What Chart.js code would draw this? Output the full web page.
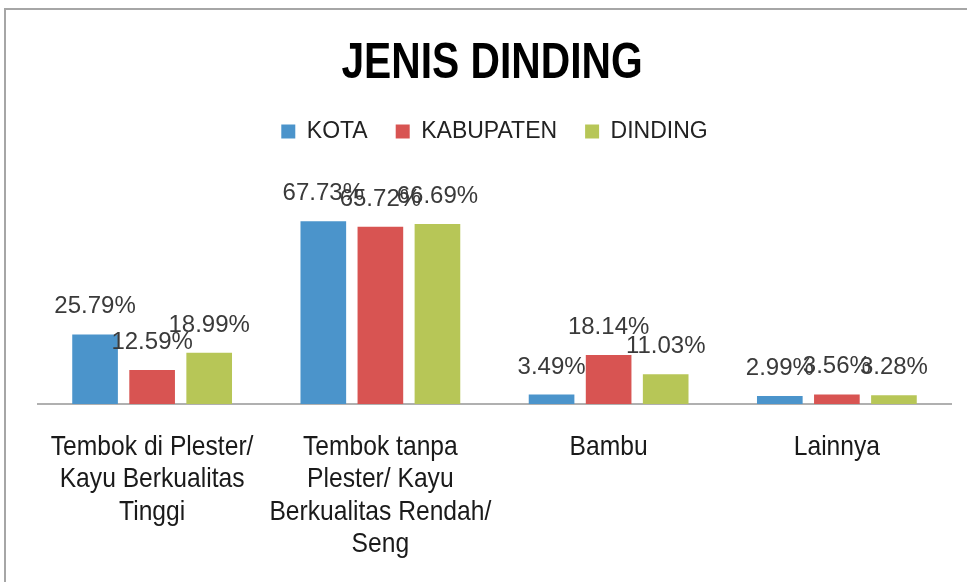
<!DOCTYPE html>
<html>
<head>
<meta charset="utf-8">
<script src="https://cdn.jsdelivr.net/npm/chart.js@4.4.0/dist/chart.umd.min.js"></script>
<style>
  body { margin: 0; background: #fff; }
  #wrap { position: relative; width: 967px; height: 582px; }
  #frame { position: absolute; left: 4px; top: 8px; width: 970px; height: 580px;
           border-top: 2px solid #a6a6a6; border-left: 2px solid #a6a6a6; }
  canvas { position: absolute; left: 0; top: 0; }
</style>
</head>
<body>
<div id="wrap">
  <div id="frame"></div>
  <canvas id="bar-chart" width="967" height="582"></canvas>
</div>
<script>
var titleText = "JENIS DINDING";
var categories = [
  ["Tembok di Plester/", "Kayu Berkualitas", "Tinggi"],
  ["Tembok tanpa", "Plester/ Kayu", "Berkualitas Rendah/", "Seng"],
  ["Bambu"],
  ["Lainnya"]
];
var kota = [25.79, 67.73, 3.49, 2.99];
var kabupaten = [12.59, 65.72, 18.14, 3.56];
var dinding = [18.99, 66.69, 11.03, 3.28];

// narrow (squeezed) text, the original uses a condensed office font
function narrowText(ctx, text, x, y, squeeze) {
  ctx.save();
  ctx.translate(x, y);
  ctx.scale(squeeze, 1);
  ctx.fillText(text, 0, 0);
  ctx.restore();
}

var extras = {
  id: "extras",
  afterDraw: function (chart) {
    var ctx = chart.ctx;
    var xs = chart.scales.x;
    ctx.save();
    ctx.textAlign = "center";
    ctx.textBaseline = "alphabetic";

    // title
    ctx.fillStyle = "#000";
    ctx.font = "bold 50px 'Liberation Sans', Arial, sans-serif";
    narrowText(ctx, titleText, 492, 78, 0.815);

    // category labels
    ctx.fillStyle = "#1a1a1a";
    ctx.font = "28px 'Liberation Sans', Arial, sans-serif";
    categories.forEach(function (lines, i) {
      var cx = xs.getPixelForValue(i);
      lines.forEach(function (ln, k) {
        narrowText(ctx, ln, cx, 455 + k * 32.3, 0.88);
      });
    });

    // value labels
    ctx.fillStyle = "#3a3a3a";
    ctx.font = "24px 'Liberation Sans', Arial, sans-serif";
    chart.data.datasets.forEach(function (ds, i) {
      chart.getDatasetMeta(i).data.forEach(function (bar, j) {
        ctx.fillText(ds.data[j].toFixed(2) + "%", bar.x, bar.y - 21);
      });
    });
    ctx.restore();
  }
};

new Chart(document.getElementById("bar-chart"), {
  type: "bar",
  data: {
    labels: categories,
    datasets: [
      { label: "KOTA", backgroundColor: "#4b94cb", data: kota },
      { label: "KABUPATEN", backgroundColor: "#d85452", data: kabupaten },
      { label: "DINDING", backgroundColor: "#b7c657", data: dinding }
    ]
  },
  plugins: [extras],
  options: {
    responsive: false,
    animation: false,
    layout: { padding: { left: 38, right: 16, top: 92, bottom: 170 } },
    datasets: { bar: { categoryPercentage: 0.75, barPercentage: 0.8 } },
    plugins: {
      title: { display: false },
      legend: {
        display: true,
        labels: {
          color: "#222",
          font: { family: "'Liberation Sans', Arial, sans-serif", size: 23 },
          boxWidth: 14,
          boxHeight: 14,
          padding: 28
        }
      },
      tooltip: { enabled: false }
    },
    scales: {
      x: {
        grid: { display: false },
        border: { display: true, color: "#b0b0b0", width: 2 },
        ticks: { display: false }
      },
      y: {
        display: false,
        min: 0,
        max: 93
      }
    }
  }
});
</script>
</body>
</html>
